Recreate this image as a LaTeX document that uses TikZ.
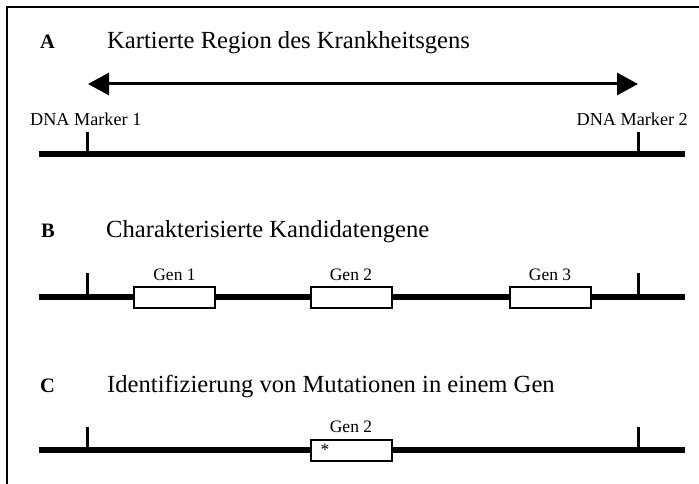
\documentclass[tikz,border=0pt]{standalone}
\usepackage{fontspec}
\setmainfont{Liberation Serif}
\usetikzlibrary{arrows.meta}
\begin{document}
\begin{tikzpicture}[x=1pt,y=-1pt,
  title/.style={anchor=base west,inner sep=0pt,font=\fontsize{24.6}{28}\selectfont},
  letter/.style={anchor=base west,inner sep=0pt,font=\fontsize{20.5}{24}\bfseries\selectfont},
  lbl/.style={anchor=base,inner sep=0pt,font=\fontsize{17.5}{20}\selectfont},
  mk/.style={anchor=base west,inner sep=0pt,font=\fontsize{18.2}{20}\selectfont},
  chrom/.style={line width=6pt},
  tickmark/.style={line width=3pt},
  gene/.style={draw,line width=2pt,fill=white,minimum width=81pt,minimum height=21pt,inner sep=0pt,outer sep=0pt}]
\useasboundingbox (0,0) rectangle (699,484);
\clip (0,0) rectangle (699,484);
\draw[line width=2pt] (7,7) rectangle (730,520);

% ---------- A ----------
\node[letter] (la) at (40,48.5) {A};
\node[title] (ta) at (107,48.5) {Kartierte Region des Krankheitsgens};
\coordinate (al) at (88,84);
\coordinate (ar) at (638,84);
\draw[line width=3pt,{Triangle[length=21pt,width=22pt]}-{Triangle[length=21pt,width=22pt]}] (al) -- (ar);
\node[mk] (m1) at (30,126) {DNA Marker 1};
\node[mk,anchor=base east] (m2) at (688,126) {DNA Marker 2};
\coordinate (a0) at (39,154.5);
\coordinate (a1) at (685,154.5);
\coordinate (at1) at (87,132);
\coordinate (at1b) at (87,154.5);
\coordinate (at2) at (638,132);
\coordinate (at2b) at (638,154.5);
\draw[chrom] (a0) -- (a1);
\draw[tickmark] (at1) -- (at1b);
\draw[tickmark] (at2) -- (at2b);

% ---------- B ----------
\node[letter] (lb) at (41,237) {B};
\node[title] (tb) at (106,237) {Charakterisierte Kandidatengene};
\coordinate (b0) at (39,297);
\coordinate (b1) at (685,297);
\coordinate (bt1) at (87,273);
\coordinate (bt1b) at (87,297);
\coordinate (bt2) at (638,273);
\coordinate (bt2b) at (638,297);
\draw[chrom] (b0) -- (b1);
\draw[tickmark] (bt1) -- (bt1b);
\draw[tickmark] (bt2) -- (bt2b);
\node[gene] (g1) at (174.5,297.5) {};
\node[gene] (g2) at (351,297.5) {};
\node[gene] (g3) at (550,297.5) {};
\node[lbl] (g1l) at (174.5,280) {Gen 1};
\node[lbl] (g2l) at (351,280) {Gen 2};
\node[lbl] (g3l) at (550,280) {Gen 3};

% ---------- C ----------
\node[letter] (lc) at (40,392) {C};
\node[title] (tc) at (107,392) {Identifizierung von Mutationen in einem Gen};
\coordinate (c0) at (39,450);
\coordinate (c1) at (685,450);
\coordinate (ct1) at (87,427);
\coordinate (ct1b) at (87,450);
\coordinate (ct2) at (638,427);
\coordinate (ct2b) at (638,450);
\draw[chrom] (c0) -- (c1);
\draw[tickmark] (ct1) -- (ct1b);
\draw[tickmark] (ct2) -- (ct2b);
\node[gene] (gc) at (351,450.5) {};
\node[lbl] (gcl) at (351,432) {Gen 2};
\node[inner sep=0pt,font=\fontsize{17.5}{20}\selectfont] (ast) at (325,450) {*};
\end{tikzpicture}
\end{document}
